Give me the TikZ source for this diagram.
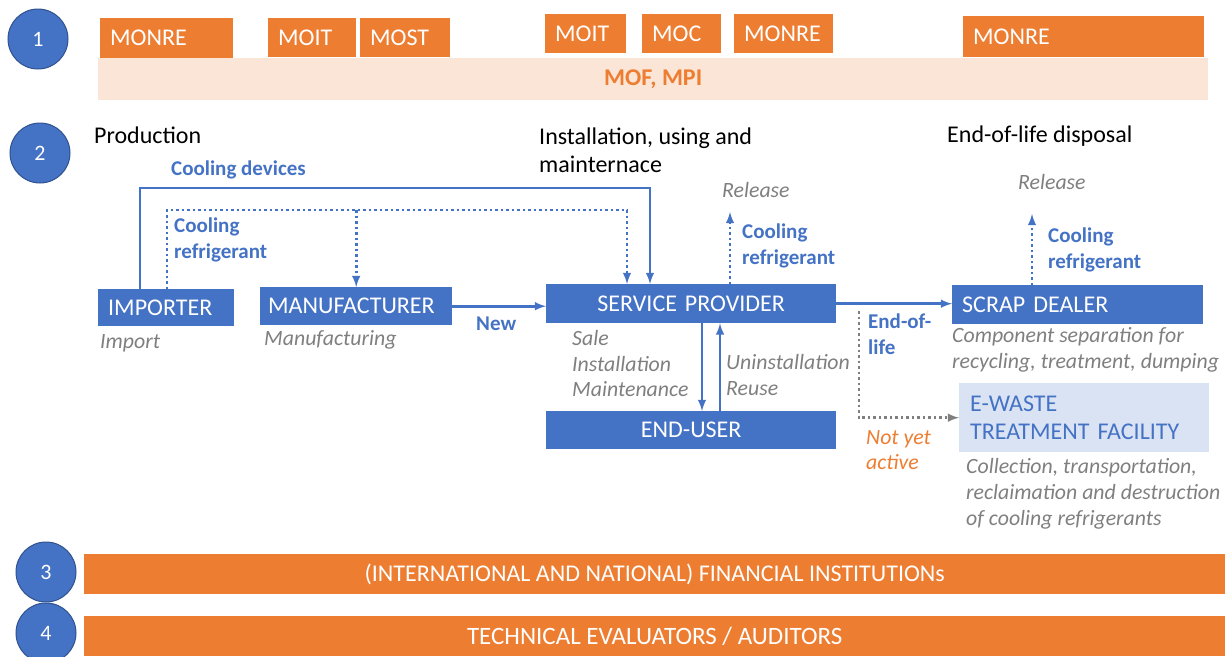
\documentclass[tikz,border=0pt]{standalone}
\usepackage{fontspec}
\setmainfont{Carlito}
\usepackage{xcolor}
\usepackage{tikz}
\usetikzlibrary{calc}
\usetikzlibrary{arrows}
\usetikzlibrary{arrows.meta}
\usetikzlibrary{shapes}
\usetikzlibrary{positioning}
\definecolor{actblue}{HTML}{4472C4}
\definecolor{ringblue}{HTML}{2F528F}
\definecolor{minorange}{HTML}{ED7D31}
\definecolor{peach}{HTML}{FBE5D6}
\definecolor{paleblue}{HTML}{DAE3F3}
\definecolor{notegray}{HTML}{7F7F7F}
\tikzset{>=latex}
\tikzstyle{num} = [circle, fill=actblue, draw=ringblue, line width=1pt, text=white, minimum size=60pt, inner sep=0, font=\fontsize{22}{26}\selectfont]
\tikzstyle{ministry} = [rectangle, fill=minorange, text=white, anchor=north west, inner xsep=10pt, inner ysep=0, align=left, font=\fontsize{24}{28}\selectfont]
\tikzstyle{band} = [rectangle, fill=minorange, text=white, anchor=north west, inner sep=0, align=center, font=\fontsize{24}{28}\selectfont]
\tikzstyle{actor} = [rectangle, fill=actblue, text=white, anchor=north west, inner xsep=10pt, inner ysep=0, font=\fontsize{24}{28}\selectfont]
\tikzstyle{phase} = [draw=none, anchor=west, inner sep=0, align=left, font=\fontsize{24}{28}\selectfont]
\tikzstyle{flowlbl} = [draw=none, anchor=west, inner sep=0, align=left, text=actblue, font=\bfseries\fontsize{21}{26}\selectfont]
\tikzstyle{note} = [draw=none, anchor=west, inner sep=0, align=left, text=notegray, font=\itshape\fontsize{21.8}{25.5}\selectfont]
\tikzstyle{flow} = [-latex, draw=actblue, line width=2.8pt]
\tikzstyle{dots} = [-latex, draw=actblue, line width=2.8pt, dash pattern=on 2.5pt off 3pt]
\tikzstyle{graydots} = [-latex, draw=notegray, line width=2.8pt, dash pattern=on 2.5pt off 3pt]

\begin{document}
\begin{tikzpicture}[x=1pt, y=-1pt]
\useasboundingbox (0,0) rectangle (1225,656);
% row 1: ministries
\node [rectangle, fill=peach, text=minorange, anchor=north west, inner sep=0, minimum width=1110pt, minimum height=42pt, font=\bfseries\fontsize{24}{28}\selectfont] (mof) at (98,58) {MOF, MPI};
\node [ministry, text width=113pt, minimum height=40pt] (monreA) at (100,18) {MONRE};
\node [ministry, text width=68pt, minimum height=39pt] (moitA) at (268,18) {MOIT};
\node [ministry, text width=70pt, minimum height=39pt] (most) at (360,18) {MOST};
\node [ministry, text width=61pt, minimum height=39pt] (moitB) at (545,14) {MOIT};
\node [ministry, text width=59pt, minimum height=39pt] (moc) at (642,14) {MOC};
\node [ministry, text width=79pt, minimum height=39pt] (monreB) at (734,14) {MONRE};
\node [ministry, text width=221pt, minimum height=41pt] (monreC) at (963,16) {MONRE};
% numbers
\node [num] (n1) at (38,39) {1};
\node [num] (n2) at (40,153) {2};
\node [num] (n3) at (46,572) {3};
\node [num] (n4) at (46,633) {4};
% row 2: phases
\node [phase] (prod) at (94,135) {Production};
\node [phase] (inst) at (539,150) {Installation, using and\\mainternace};
\node [phase] (eol) at (947,136) {End-of-life disposal};
% actors
\node [actor, text width=116pt, minimum height=37pt, align=left] (imp) at (98,289) {IMPORTER};
\node [actor, inner xsep=8pt, text width=176pt, minimum height=38pt, align=left] (manu) at (260,287) {MANUFACTURER};
\node [actor, text width=270pt, minimum height=39pt, align=center] (sp) at (546,284) {SERVICE PROVIDER};
\node [actor, text width=270pt, minimum height=38pt, align=center] (eu) at (546,411) {END-USER};
\node [actor, text width=231pt, minimum height=39pt, align=left] (scrap) at (952,285) {SCRAP DEALER};
\node [actor, fill=paleblue, text=actblue, inner xsep=11pt, text width=228pt, minimum height=69pt, align=left] (ewaste) at (959,383) {E-WASTE\\TREATMENT FACILITY};
% flow labels
\node [flowlbl] (devlbl) at (171,170) {Cooling devices};
\node [flowlbl] (reflblA) at (174,240) {Cooling\\refrigerant};
\node [flowlbl] (reflblB) at (742,246) {Cooling\\refrigerant};
\node [flowlbl] (reflblC) at (1048,250) {Cooling\\refrigerant};
\node [flowlbl] (newlbl) at (476,324) {New};
\node [flowlbl] (eollbl) at (868,334) {End-of-\\life};
% notes
\node [note] (relA) at (722,190) {Release};
\node [note] (relB) at (1018,182) {Release};
\node [note] (impnote) at (100,343) {Import};
\node [note] (manunote) at (264,340) {Manufacturing};
\node [note] (spnote) at (572,364) {Sale\\Installation\\Maintenance};
\node [note] (eunote) at (726,375) {Uninstallation\\Reuse};
\node [note] (scrapnote) at (952,350) {Component separation for\\recycling, treatment, dumping};
\node [note, font=\itshape\fontsize{21.8}{26}\selectfont] (ewnote) at (966,494) {Collection, transportation,\\reclaimation and destruction\\of cooling refrigerants};
\node [note, text=minorange] (notyet) at (866,450) {Not yet\\active};
% rows 3 and 4
\node [band, minimum width=1141pt, minimum height=40pt] (fin) at (84,554) {(INTERNATIONAL AND NATIONAL) FINANCIAL INSTITUTIONs};
\node [band, minimum width=1141pt, minimum height=40pt, font=\fontsize{25}{29}\selectfont] (audit) at (84,616) {TECHNICAL EVALUATORS / AUDITORS};
% connectors
\coordinate (devtop) at (400,188);
\coordinate (reftop) at (400,210);
\coordinate (relupA) at (730,212);
\coordinate (relupB) at (1032,214);
\coordinate (eolstart) at (859,311);
\draw [flow] ([xshift=42pt]imp.north west) |- (devtop) -| ([xshift=104pt]sp.north west);
\draw [dots] ([xshift=69pt]imp.north west) |- (reftop) -| ([xshift=81pt]sp.north west);
\draw [dots] (manu.north |- reftop) -- (manu.north);
\draw [flow] (manu.east) -- (manu.east -| sp.west);
\draw [flow] ([xshift=156pt]sp.south west) -- ([xshift=156pt]eu.north west);
\draw [flow] ([xshift=174pt]eu.north west) -- ([xshift=174pt]sp.south west);
\draw [dots] (relupA |- sp.north) -- (relupA);
\draw [flow] (sp.east) -- (sp.east -| scrap.west);
\draw [dots] (relupB |- scrap.north) -- (relupB);
\draw [graydots] (eolstart) |- (ewaste.west);
\end{tikzpicture}
\end{document}
